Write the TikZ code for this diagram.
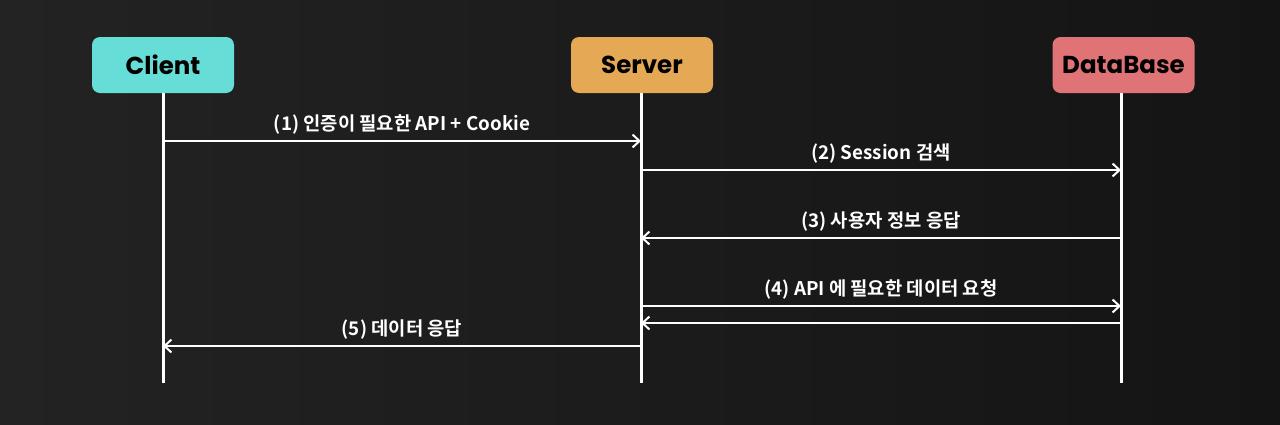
\documentclass[tikz,border=0pt]{standalone}
\usepackage{fontspec}
\setmainfont{Poppins}
\newfontfamily\krfont{Noto Sans CJK KR}[BoldFont={* Bold}]
\usetikzlibrary{arrows.meta}
\definecolor{cteal}{HTML}{66DDD6}
\definecolor{corange}{HTML}{E5A855}
\definecolor{cred}{HTML}{E07375}
\definecolor{bgl}{HTML}{232323}
\definecolor{bgr}{HTML}{141414}
\tikzset{
  actor/.style={rounded corners=8pt, minimum width=142pt, minimum height=56pt,
    inner sep=0pt, font=\fontsize{24.5}{28}\selectfont\bfseries, text=black},
  life/.style={white, line width=3pt},
  msg/.style={white, line width=2pt, -{Straight Barb[length=7pt,width=13pt,line width=2pt]}},
  lbl/.style={text=white, font=\krfont\bfseries\fontsize{18.8}{22}\selectfont, inner sep=0pt,
    text height=13pt, text depth=3pt, midway, yshift=15.5pt}
}
\begin{document}
\begin{tikzpicture}[x=1pt,y=-1pt]
\useasboundingbox (0,0) rectangle (1280,424);
\shade[left color=bgl, right color=bgr] (0,0) rectangle (1280,424);
\node[actor, fill=cteal] (client) at (163,65) {Client};
\node[actor, fill=corange] (server) at (642,65) {Server};
\node[actor, fill=cred] (db) at (1123.5,65) {DataBase};
\coordinate (cb) at (163,383);
\coordinate (sb) at (641,383);
\coordinate (db2) at (1121,383);
\coordinate (sbt) at (641,93);
\coordinate (dbt) at (1121,93);
\draw[life] (client.south) -- (cb);
\draw[life] (sbt) -- (sb);
\draw[life] (dbt) -- (db2);
% message anchors
\coordinate (c1) at (163,141); \coordinate (s1) at (641,141);
\coordinate (s2) at (641,170); \coordinate (d2) at (1121,170);
\coordinate (d3) at (1121,238); \coordinate (s3) at (641,238);
\coordinate (s4) at (641,306); \coordinate (d4) at (1121,306);
\coordinate (d4b) at (1121,323); \coordinate (s4b) at (641,323);
\coordinate (s5) at (641,346); \coordinate (c5) at (163,346);
\draw[msg] (c1) -- (s1) node[lbl] (l1) {(1) 인증이 필요한 API + Cookie};
\draw[msg] (s2) -- (d2) node[lbl] (l2) {(2) Session 검색};
\draw[msg] (d3) -- (s3) node[lbl] (l3) {(3) 사용자 정보 응답};
\draw[msg] (s4) -- (d4) node[lbl] (l4) {(4) API 에 필요한 데이터 요청};
\draw[msg] (d4b) -- (s4b);
\draw[msg] (s5) -- (c5) node[lbl] (l5) {(5) 데이터 응답};
\end{tikzpicture}
\end{document}
